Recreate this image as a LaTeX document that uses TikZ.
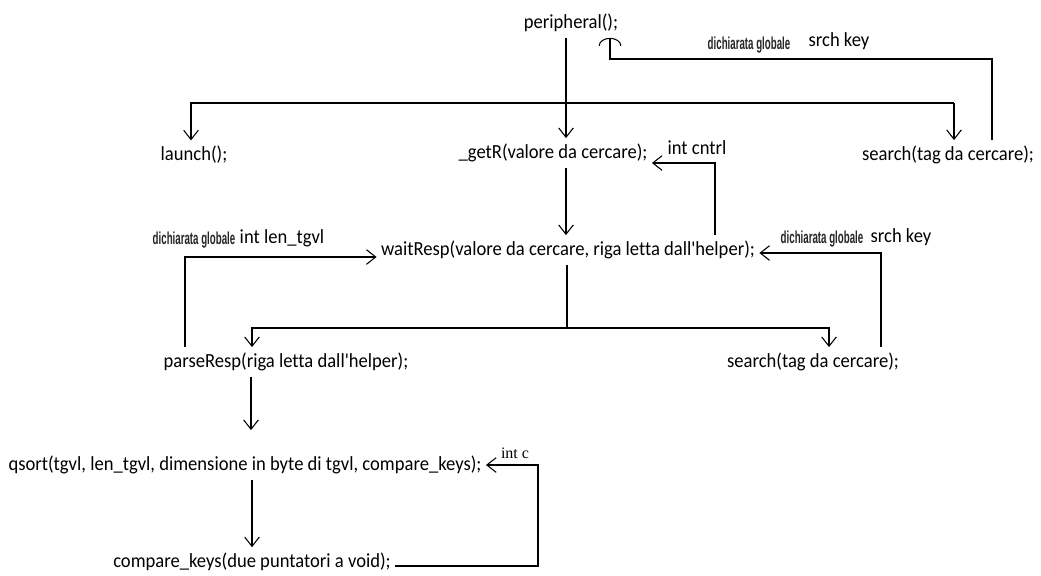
\documentclass[tikz,border=0pt]{standalone}
\usepackage{fontspec}
\usepackage{graphicx}
\setmainfont{Carlito}[Ligatures={TeXOff,NoCommon}, FakeStretch=0.93]
\newfontfamily\notefont{Liberation Sans}[Ligatures=TeXOff]
\newfontfamily\seriffont{Liberation Serif}[Ligatures=TeXOff]
\usetikzlibrary{arrows.meta}

\begin{document}
\begin{tikzpicture}[x=0.75pt,y=-0.75pt,
  line width=0.8pt,
  code/.style={font=\fontsize{15}{18}\selectfont, inner xsep=3pt, inner ysep=4pt},
  lbl/.style={font=\fontsize{15}{18}\selectfont, inner sep=0pt},
  glob/.style={font=\fontsize{13}{15}\notefont\bfseries, inner sep=0pt, text=black!85},
  arr/.style={-{Straight Barb[length=7pt,width=11pt]}},
  arcarr/.style={-{Arc Barb[length=6pt,width=17pt]}}]
\fill[white] (0,0) rectangle (1041,575);
\useasboundingbox (0,0) rectangle (1041,575);

% function calls
\node[code] (per)     at (571,23)  {peripheral();};
\node[code] (launch)  at (194,155) {launch();};
\node[code] (getR)    at (553,153) {\_getR(valore da cercare);};
\node[code] (search1) at (948,155) {search(tag da cercare);};
\node[code] (wait)    at (568,250) {waitResp(valore da cercare, riga letta dall'helper);};
\node[code] (parse)   at (286,362) {parseResp(riga letta dall'helper);};
\node[code] (search2) at (813,362) {search(tag da cercare);};
\node[code] (qsort)   at (245,465) {qsort(tgvl, len\_tgvl, dimensione in byte di tgvl, compare\_keys);};
\node[code] (cmp)     at (252,562) {compare\_keys(due puntatori a void);};

% variable labels
\node[glob] (g1) at (749,45)  {\scalebox{0.56}[1]{dichiarata globale}};
\node[lbl]  (s1) at (839,41)  {srch key};
\node[lbl]  (ic) at (697,148) {int cntrl};
\node[glob] (g2) at (194,240) {\scalebox{0.56}[1]{dichiarata globale}};
\node[lbl]  (lt) at (282,238) {int len\_tgvl};
\node[glob] (g3) at (822,239) {\scalebox{0.56}[1]{dichiarata globale}};
\node[lbl]  (s2) at (901,237) {srch key};
\node[inner sep=0pt, font=\fontsize{12}{14}\seriffont] (cc) at (515,453) {int c};

% junction points
\coordinate (barL) at (191,103);
\coordinate (barR) at (954,103);
\coordinate (k1) at (992,59);
\coordinate (k2) at (715,163);
\coordinate (k3) at (185,257);
\coordinate (k4) at (881,253);
\coordinate (k5) at (567,328);
\coordinate (k6) at (538,566);

% top level
\draw[arr] (per.south -| 566,0) -- (getR.north -| 566,0);
\draw[arr] (barR) -- (barL) -- (launch.north -| barL);
\draw[arr] (barR) -- (search1.north -| barR);
\draw[arcarr] (search1.north -| k1) -- (k1) -| (per.south -| 610,0);

% _getR loop and call
\draw[arr] (wait.north -| k2) -- (k2) -- (getR.east |- k2);
\draw[arr] (getR.south -| 566,0) -- (wait.north -| 566,0);

% waitResp inputs
\draw[arr] (parse.north -| k3) -- (k3) -- (wait.west |- k3);
\draw[arr] (search2.north -| k4) -- (k4) -- (wait.east |- k4);

% waitResp branches
\draw (wait.south -| k5) -- (k5);
\draw[arr] (k5) -| (parse.north -| 252,0);
\draw[arr] (k5) -| (search2.north -| 829,0);

% sorting
\draw[arr, shorten >=15pt] (parse.south -| 251,0) -- (qsort.north -| 251,0);
\draw[arr] (qsort.south -| 252,0) -- (cmp.north -| 252,0);
\draw[arr] (cmp.east |- k6) -- (k6) |- (qsort.east);
\end{tikzpicture}
\end{document}
